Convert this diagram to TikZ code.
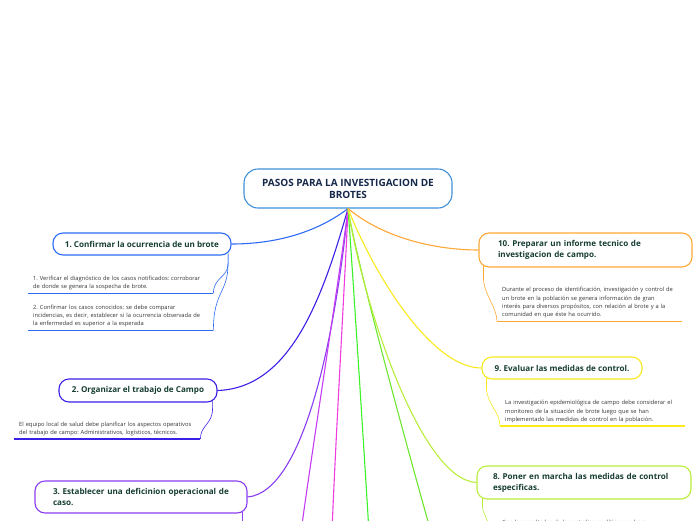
\documentclass[tikz,border=0pt]{standalone}
\usepackage{fontspec}
\setmainfont{Open Sans}
\definecolor{rootline}{HTML}{3F8FD6}
\definecolor{roottext}{HTML}{15284A}
\definecolor{topictext}{HTML}{163D33}
\definecolor{notetext}{HTML}{333333}
\definecolor{cone}{HTML}{2D6BF5}
\definecolor{ctwo}{HTML}{3A1FE6}
\definecolor{cthree}{HTML}{8A3CF0}
\definecolor{cfour}{HTML}{C43CF5}
\definecolor{cfive}{HTML}{F03CE0}
\definecolor{csix}{HTML}{3CF02A}
\definecolor{cseven}{HTML}{6EE630}
\definecolor{ceight}{HTML}{B8EE3A}
\definecolor{cnine}{HTML}{F8EA1C}
\definecolor{cten}{HTML}{FFA835}
\frenchspacing
\begin{document}
\begin{tikzpicture}[x=1pt, y=-1pt,
  topic/.style={draw, line width=1.1pt, rounded corners=10pt, inner sep=0pt, align=left,
    font=\fontsize{8.1}{11}\selectfont\bfseries, text=topictext},
  note/.style={anchor=south west, align=left, inner xsep=5pt, inner ysep=3pt,
    font=\fontsize{5.75}{8.4}\selectfont, text=notetext},
  branch/.style={line width=1.1pt},
  sub/.style={line width=0.6pt},
  uline/.style={line width=1.3pt}]
  \useasboundingbox (0,0) rectangle (696,520);
  \clip (0,0) rectangle (696,520);
  % central topic
  \node[topic, draw=rootline, rounded corners=14pt, minimum width=208, minimum height=39,
    align=center, text=roottext, font=\fontsize{10}{12}\selectfont\bfseries] (root) at (348,188.5)
    {PASOS PARA LA INVESTIGACION DE\\BROTES};
  % main topics
  \node[topic, draw=cone, minimum width=178, minimum height=22] (t1) at (142,244)
    {1. Confirmar la ocurrencia de un brote};
  \node[topic, draw=ctwo, minimum width=158, minimum height=23] (t2) at (138,390.5)
    {2. Organizar el trabajo de Campo};
  \node[topic, draw=cthree, minimum width=212, minimum height=32, text width=176] (t3) at (141,497)
    {3. Establecer una deficinion operacional de\\caso.};
  \node[topic, draw=ceight, minimum width=214, minimum height=33, text width=182] (t8) at (584,482.5)
    {8. Poner en marcha las medidas de control\\especificas.};
  \node[topic, draw=cnine, minimum width=160, minimum height=22] (t9) at (562,368)
    {9. Evaluar las medidas de control.};
  \node[topic, draw=cten, minimum width=213, minimum height=34, text width=175] (t10) at (585.5,250)
    {10. Preparar un informe tecnico de\\investigacion de campo.};
  % branches leaving the picture at the bottom
  \coordinate (k4) at (301,532);
  \coordinate (k5) at (332,532);
  \coordinate (k6) at (369,532);
  \coordinate (k7) at (431,532);
  % notes
  \node[note, text width=175] (n1a) at (28,293.3)
    {1. Verificar el diagnóstico de los casos notificados: corroborar\\de donde se genera la sospecha de brote.};
  \node[note, text width=175] (n1b) at (28,330.5)
    {2. Confirmar los casos conocidos: se debe comparar\\incidencias, es decir, establecer si la ocurrencia observada de\\la enfermedad es superior a la esperada};
  \node[note, text width=176] (n2a) at (14,439)
    {El equipo local de salud debe planificar los aspectos operativos\\del trabajo de campo: Administrativos, logísticos, técnicos.};
  \node[note, text width=175] (n10a) at (497,321.5)
    {Durante el proceso de identificación, investigación y control de\\un brote en la población se genera información de gran\\interés para diversos propósitos, con relación al brote y a la\\comunidad en que éste ha ocurrido.};
  \node[note, text width=175] (n9a) at (500,426)
    {La investigación epidemiológica de campo debe considerar el\\monitoreo de la situación de brote luego que se han\\implementado las medidas de control en la población.};
  \node[note, anchor=north west, text width=175] (n8a) at (497,516.5)
    {Con los resultados de los estudios analíticos, se hace};
  % branches
  \draw[branch, cone] (root.south) .. controls (312,236) and (268,244) .. (t1.east);
  \draw[branch, ctwo] (root.south) .. controls (322,300) and (290,388) .. (t2.east);
  \draw[branch, cthree] (root.south) .. controls (336,330) and (305,492) .. (t3.east);
  \draw[branch, cfour] (root.south) .. controls (342,260) and (312,450) .. (k4);
  \draw[branch, cfive] (root.south) .. controls (346,260) and (335,450) .. (k5);
  \draw[branch, csix] (root.south) .. controls (352,260) and (364,450) .. (k6);
  \draw[branch, cseven] (root.south) .. controls (356,260) and (405,440) .. (k7);
  \draw[branch, ceight] (root.south) .. controls (362,300) and (420,480) .. (t8.west);
  \draw[branch, cnine] (root.south) .. controls (372,270) and (430,368) .. (t9.west);
  \draw[branch, cten] (root.south) .. controls (386,240) and (440,250) .. (t10.west);
  % underlines
  \draw[uline, cone] (n1a.south west) -- (n1a.south east);
  \draw[uline, cone] (n1b.south west) -- (n1b.south east);
  \draw[uline, ctwo] (n2a.south west) -- (n2a.south east);
  \draw[uline, cten] (n10a.south west) -- (n10a.south east);
  \draw[uline, cnine] (n9a.south west) -- (n9a.south east);
  % sub connectors
  \draw[sub, cone] ([xshift=-3.5pt, yshift=2pt]t1.south east) -- ++(0,10) .. controls +(0,14) and +(0,-16) .. (n1a.south east);
  \draw[sub, cone] ([xshift=-3.5pt, yshift=2pt]t1.south east) -- ++(0,10) .. controls +(0,30) and +(0,-40) .. (n1b.south east);
  \draw[sub, ctwo] ([xshift=-5pt, yshift=2pt]t2.south east) -- ++(0,8) .. controls +(0,16) and +(0,-14) .. (n2a.south east);
  \draw[sub, cthree] ([xshift=-5pt, yshift=2pt]t3.south east) -- ++(0,14);
  \draw[sub, cten] ([xshift=5pt, yshift=2pt]t10.south west) -- ++(0,12) .. controls +(0,16) and +(0,-14) .. (n10a.south west);
  \draw[sub, cnine] ([xshift=5pt, yshift=2pt]t9.south west) -- ++(0,10) .. controls +(0,16) and +(0,-14) .. (n9a.south west);
  \draw[sub, ceight] ([xshift=6pt, yshift=2pt]t8.south west) -- ++(0,8) .. controls +(0,8) and +(0,-6) .. ++(6,20);
\end{tikzpicture}
\end{document}
